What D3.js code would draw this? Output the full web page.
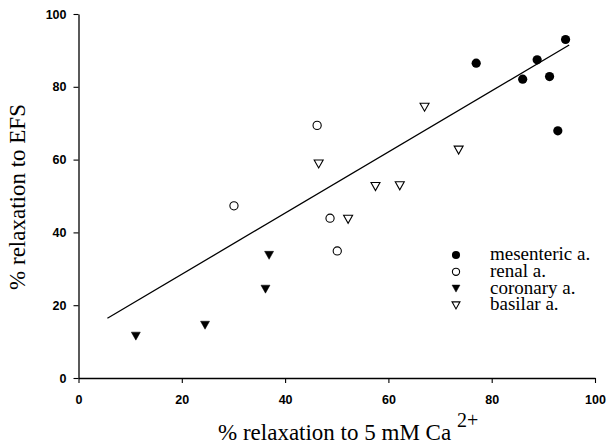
<!DOCTYPE html>
<html>
<head>
<meta charset="utf-8">
<script src="https://cdn.jsdelivr.net/npm/d3@7"></script>
<style>
  body { margin: 0; background: #fff; }
  svg { display: block; }
</style>
</head>
<body>
<div id="vis"></div>
<script>
// Datos (x: % relajacion a Ca 2+, y: % relajacion a EFS)
const mesentericX = [77.0, 86.0, 88.8, 91.2, 94.3, 92.8];
const mesentericY = [86.5, 82.1, 87.4, 82.8, 93.0, 67.9];

const renalX = [46.2, 30.1, 48.7, 50.1];
const renalY = [69.4, 47.3, 43.9, 34.9];

const coronaryX = [11.1, 24.5, 36.9, 36.2];
const coronaryY = [11.5, 14.5, 33.7, 24.4];

const basilarX = [67.0, 73.6, 46.5, 57.5, 62.2, 52.2];
const basilarY = [74.4, 62.6, 58.8, 52.6, 52.8, 43.6];

// recta de regresion
const lineXRange = [5.6, 95.0];
const lineSlope = 0.84;
const lineIntercept = 11.7;

const xTicks = [0, 20, 40, 60, 80, 100];
const yTicks = [0, 20, 40, 60, 80, 100];
const legendLabels = ["mesenteric a.", "renal a.", "coronary a.", "basilar a."];

const WIDTH = 608;
const HEIGHT = 448;

const SERIF = "Liberation Serif";
const SANS = "Liberation Sans";

const SVG = d3.select("#vis").append("svg")
    .attr("width", WIDTH)
    .attr("height", HEIGHT);

const escalaX = d3.scaleLinear().domain([0, 100]).range([78.5, 595]);
const escalaY = d3.scaleLinear().domain([0, 100]).range([378, 14]);

// Ejes
const ejeX = d3.axisBottom(escalaX).tickValues(xTicks).tickSize(5).tickSizeOuter(0).tickPadding(12);
const ejeY = d3.axisLeft(escalaY).tickValues(yTicks).tickSize(5).tickSizeOuter(0).tickPadding(7);

const gX = SVG.append("g")
    .attr("transform", `translate(0, ${escalaY(0)})`)
    .call(ejeX);
const gY = SVG.append("g")
    .attr("transform", `translate(${escalaX(0)}, 0)`)
    .call(ejeY);

[gX, gY].forEach(g => {
    g.attr("font-family", SANS).attr("font-size", 12.5).attr("font-weight", "bold");
    g.select(".domain").attr("stroke", "#000").attr("stroke-width", 1.3);
    g.selectAll(".tick line").attr("stroke", "#000").attr("stroke-width", 1.1);
    g.selectAll(".tick text").attr("fill", "#000");
});

// Recta
const linea = d3.line()
    .x(d => escalaX(d))
    .y(d => escalaY(lineIntercept + lineSlope * d));

SVG.append("path")
    .datum(lineXRange)
    .attr("fill", "none")
    .attr("stroke", "#000")
    .attr("stroke-width", 1.3)
    .attr("d", linea);

// Simbolos
function trianglePath(w, h) {
    return `M${-w / 2},${-h / 2}L${w / 2},${-h / 2}L0,${h / 2}Z`;
}

const series = [
    { xs: mesentericX, ys: mesentericY, kind: "circle", filled: true },
    { xs: renalX, ys: renalY, kind: "circle", filled: false },
    { xs: coronaryX, ys: coronaryY, kind: "tri", filled: true },
    { xs: basilarX, ys: basilarY, kind: "tri", filled: false },
];

function drawMarker(g, s, size) {
    if (s.kind === "circle") {
        g.append("circle")
            .attr("r", s.filled ? 4.6 * size : 4.1 * size)
            .attr("fill", s.filled ? "#000" : "#fff")
            .attr("stroke", "#000")
            .attr("stroke-width", s.filled ? 0 : 1.1);
    } else {
        g.append("path")
            .attr("d", trianglePath(9 * size, 8 * size))
            .attr("fill", s.filled ? "#000" : "#fff")
            .attr("stroke", "#000")
            .attr("stroke-width", s.filled ? 0.5 : 1.1)
            .attr("stroke-linejoin", "miter");
    }
}

series.forEach(s => {
    s.xs.forEach((x, i) => {
        const g = SVG.append("g")
            .attr("transform", `translate(${escalaX(x)}, ${escalaY(s.ys[i])})`);
        drawMarker(g, s, 1);
    });
});

// Leyenda
const legend = SVG.append("g").attr("class", "legend");
legendLabels.forEach((label, i) => {
    const y = 255 + i * 16.8;
    const g = legend.append("g").attr("transform", `translate(456, ${y})`);
    drawMarker(g, series[i], 0.88);
    legend.append("text")
        .attr("x", 490)
        .attr("y", y + 5)
        .attr("font-family", SERIF)
        .attr("font-size", 19)
        .attr("fill", "#000")
        .text(label);
});

// Titulos de ejes
const xTitle = SVG.append("text")
    .attr("x", 218)
    .attr("y", 440)
    .attr("font-family", SERIF)
    .attr("font-size", 23)
    .attr("fill", "#000");
xTitle.append("tspan").text("% relaxation to 5 mM Ca ");
xTitle.append("tspan")
    .attr("dy", -13)
    .attr("font-size", 20)
    .text("2+");

SVG.append("text")
    .attr("transform", "translate(25, 197) rotate(-90)")
    .attr("text-anchor", "middle")
    .attr("font-family", SERIF)
    .attr("font-size", 23)
    .attr("fill", "#000")
    .text("% relaxation to EFS");
</script>
</body>
</html>
